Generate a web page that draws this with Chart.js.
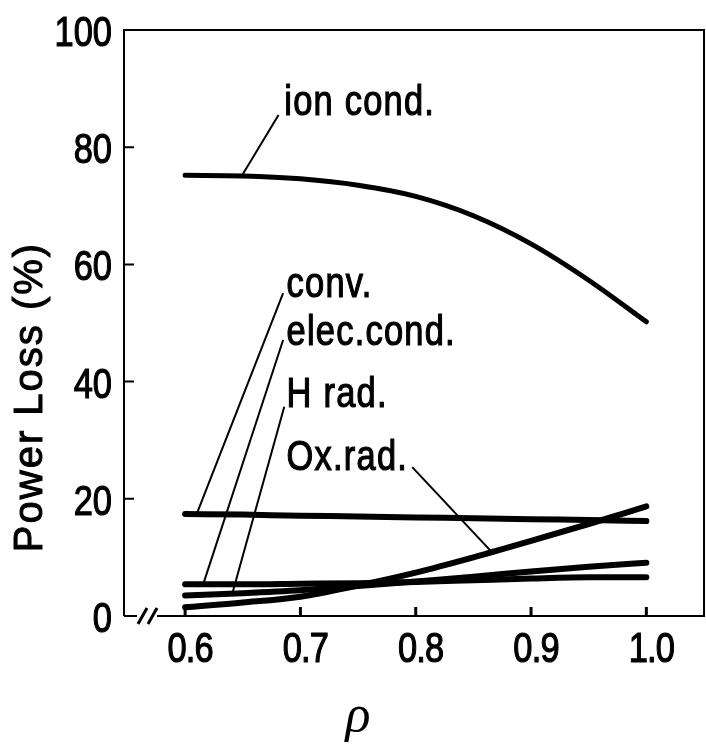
<!DOCTYPE html>
<html>
<head>
<meta charset="utf-8">
<script src="https://cdn.jsdelivr.net/npm/chart.js@4.4.1/dist/chart.umd.min.js"></script>
<style>
  html, body { margin: 0; padding: 0; background: #fff; }
</style>
</head>
<body>
<canvas id="c" width="706" height="744"></canvas>
<script>
const rho = [0.6, 0.65, 0.7, 0.75, 0.8, 0.85, 0.9, 0.95, 1.0];

// power loss (%) for each channel
const ionCond  = [75.2, 75.1, 74.6, 73.5, 71.6, 68.3, 63.5, 57.3, 50.2];
const conv     = [17.4, 17.3, 17.1, 17.0, 16.8, 16.7, 16.5, 16.4, 16.2];
const elecCond = [5.4, 5.4, 5.5, 5.6, 5.8, 6.1, 6.4, 6.6, 6.6];
const hRad     = [3.5, 3.9, 4.4, 5.1, 5.9, 6.7, 7.6, 8.4, 9.1];
const oxRad    = [1.5, 2.3, 3.3, 5.2, 7.4, 10.0, 12.8, 15.7, 18.7];

const xTicks = [0.6, 0.7, 0.8, 0.9, 1.0];
const yTicks = [0, 20, 40, 60, 80, 100];

// curve labels: text, where the text starts, and the leader line [label end, curve end]
const labelText = ["ion cond.", "conv.", "elec.cond.", "H rad.", "Ox.rad."];
const labelAt   = [[0.686, 85.5], [0.688, 54.4], [0.688, 46.2], [0.688, 35.7], [0.688, 24.9]];
const leaders   = [
    [[0.681, 85.5], [0.650, 75.4]],
    [[0.685, 55.1], [0.610, 17.4]],
    [[0.685, 47.1], [0.616, 5.6]],
    [[0.686, 35.7], [0.641, 3.9]],
    [[0.797, 25.4], [0.866, 10.9]]
];

const FONT = "'Liberation Sans', Arial, sans-serif";
const SQUEEZE = 0.82;   // the original lettering is a narrow face

function pts(ys) {
    return rho.map((r, i) => ({x: r, y: ys[i]}));
}

function curve(name, ys, w) {
    return {
        label: name,
        data: pts(ys),
        borderColor: "#000",
        borderWidth: w,
        borderCapStyle: "round",
        pointRadius: 0,
        cubicInterpolationMode: "monotone",
        fill: false
    };
}

let sets = [
    curve("ion cond.", ionCond, 5),
    curve("conv.", conv, 6),
    curve("elec.cond.", elecCond, 6),
    curve("H rad.", hRad, 6),
    curve("Ox.rad.", oxRad, 6)
];

leaders.forEach((l, i) => {
    sets.push({
        label: "leader " + i,
        data: l.map(p => ({x: p[0], y: p[1]})),
        borderColor: "#000",
        borderWidth: 2,
        pointRadius: 0,
        tension: 0,
        fill: false
    });
});

// narrow, slightly heavy text: squeeze horizontally around the anchor
function narrowText(ctx, t, x, y, align, spacing) {
    ctx.save();
    ctx.translate(x, y);
    ctx.scale(SQUEEZE, 1);
    ctx.textAlign = align;
    ctx.letterSpacing = spacing || "0px";
    ctx.lineWidth = 1.2;
    ctx.fillText(t, 0, 0);
    ctx.strokeText(t, 0, 0);
    ctx.restore();
}

// frame, axis break, inward ticks, tick labels, curve labels and axis titles
const extras = {
    id: "extras",
    afterDraw(chart) {
        const ctx = chart.ctx, a = chart.chartArea;
        const xs = chart.scales.x, ys = chart.scales.y;
        ctx.save();
        ctx.strokeStyle = "#000";
        ctx.fillStyle = "#000";
        ctx.lineWidth = 2;

        ctx.beginPath();
        ctx.moveTo(a.left, a.bottom);
        ctx.lineTo(a.left, a.top);
        ctx.lineTo(a.right, a.top);
        ctx.lineTo(a.right, a.bottom);
        ctx.lineTo(a.left + 33, a.bottom);
        ctx.moveTo(a.left + 13, a.bottom);
        ctx.lineTo(a.left, a.bottom);
        ctx.stroke();

        // the // break
        ctx.lineWidth = 3;
        ctx.beginPath();
        ctx.moveTo(a.left + 14, a.bottom + 8);
        ctx.lineTo(a.left + 23, a.bottom - 8);
        ctx.moveTo(a.left + 24, a.bottom + 8);
        ctx.lineTo(a.left + 33, a.bottom - 8);
        ctx.stroke();

        // ticks point into the plot
        ctx.lineWidth = 2;
        ctx.beginPath();
        yTicks.slice(1, -1).forEach(v => {
            let y = ys.getPixelForValue(v);
            ctx.moveTo(a.left, y);
            ctx.lineTo(a.left + 10, y);
        });
        ctx.stroke();
        ctx.lineWidth = 3;
        ctx.beginPath();
        xTicks.forEach(v => {
            let x = xs.getPixelForValue(v);
            ctx.moveTo(x, a.bottom);
            ctx.lineTo(x, a.bottom - 9);
        });
        ctx.stroke();

        // tick labels
        ctx.font = "42px " + FONT;
        ctx.textBaseline = "alphabetic";
        ys.ticks.forEach(t => {
            narrowText(ctx, String(t.value), a.left - 12, ys.getPixelForValue(t.value) + 16, "right");
        });
        xs.ticks.forEach(t => {
            narrowText(ctx, t.value.toFixed(1), xs.getPixelForValue(t.value) + 5, a.bottom + 46, "center", "-1px");
        });

        // curve labels
        labelText.forEach((t, i) => {
            narrowText(ctx, t, xs.getPixelForValue(labelAt[i][0]), ys.getPixelForValue(labelAt[i][1]), "left", "1.5px");
        });

        // y title
        ctx.save();
        ctx.font = "40px " + FONT;
        ctx.translate(31, (a.top + a.bottom) / 2 + 74);
        ctx.rotate(-Math.PI / 2);
        ctx.textAlign = "center";
        ctx.textBaseline = "middle";
        ctx.letterSpacing = "2px";
        ctx.lineWidth = 1;
        ctx.fillText("Power Loss (%)", 0, 0);
        ctx.strokeText("Power Loss (%)", 0, 0);
        ctx.restore();

        // x title
        ctx.font = "italic 52px 'Liberation Serif', serif";
        ctx.textAlign = "center";
        ctx.fillText("\u03c1", xs.getPixelForValue(0.75), 731);
        ctx.restore();
    }
};

new Chart(document.getElementById("c"), {
    type: "line",
    data: {datasets: sets},
    options: {
        responsive: false,
        animation: false,
        layout: {padding: {top: 30, right: 2, left: 0, bottom: 0}},
        plugins: {legend: {display: false}, tooltip: {enabled: false}},
        scales: {
            x: {
                type: "linear",
                min: 0.547,
                max: 1.05,
                grid: {display: false, drawTicks: false},
                border: {display: false},
                afterBuildTicks: s => { s.ticks = xTicks.map(v => ({value: v})); },
                afterFit: s => { s.height = 128; },
                ticks: {display: false}
            },
            y: {
                min: 0,
                max: 100,
                grid: {display: false, drawTicks: false},
                border: {display: false},
                afterBuildTicks: s => { s.ticks = yTicks.map(v => ({value: v})); },
                afterFit: s => { s.width = 124; },
                ticks: {display: false}
            }
        }
    },
    plugins: [extras]
});
</script>
</body>
</html>
